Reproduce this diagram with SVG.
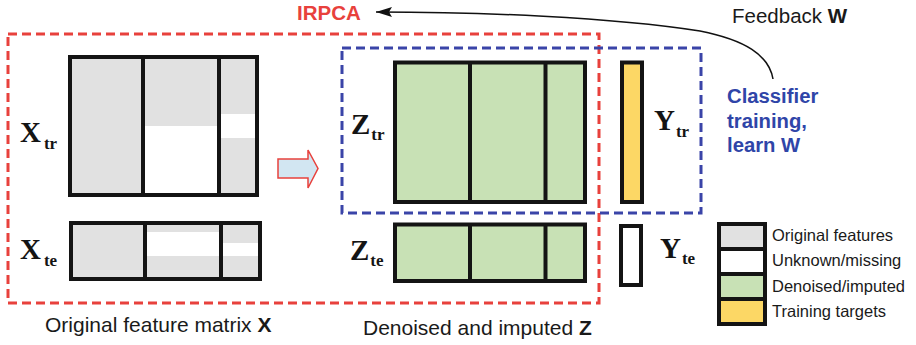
<svg xmlns="http://www.w3.org/2000/svg" width="916" height="345" viewBox="0 0 916 345">
  <defs>
    <marker id="head" markerWidth="16" markerHeight="10" refX="16" refY="5" orient="auto" markerUnits="userSpaceOnUse">
      <path d="M0,0 L16,5 L0,10 L3,5 Z" fill="#111"/>
    </marker>
    <style>
      .cell { stroke: none; }
      .gray { fill: #e1e1e1; }
      .white { fill: #ffffff; }
      .green { fill: #c8e1b5; }
      .yellow { fill: #fcd765; }
      .frame { fill: none; stroke: #141414; stroke-width: 4; }
      .sym { font-family: "Liberation Serif", "Times New Roman", serif; font-weight: bold; fill: #141414; }
      .big { font-size: 29px; }
      .sub { font-size: 17px; }
      .sans { font-family: "Liberation Sans", Arial, sans-serif; fill: #1a1a1a; }
      .cap { font-size: 21px; }
      .leg { font-size: 16.5px; }
      .redbox { fill: none; stroke: #e8413c; stroke-width: 3; stroke-dasharray: 9 5; }
      .bluebox { fill: none; stroke: #3a44a8; stroke-width: 3; stroke-dasharray: 9 5; }
    </style>
  </defs>

  <!-- region outlines -->
  <g id="irpca-region">
    <rect class="redbox" x="8" y="34" width="591" height="269"/>
    <text x="297" y="20" font-family="Liberation Sans, Arial, sans-serif" font-weight="bold" font-size="20.5" fill="#e8413c">IRPCA</text>
  </g>
  <g id="classifier-region">
    <rect class="bluebox" x="342" y="48" width="359" height="165"/>
    <text font-family="Liberation Sans, Arial, sans-serif" font-weight="bold" font-size="20.3" fill="#2f45a8">
      <tspan x="727" y="103">Classifier</tspan>
      <tspan x="727" y="128">training,</tspan>
      <tspan x="727" y="152">learn W</tspan>
    </text>
  </g>

  <!-- X train -->
  <g id="x-train">
    <rect class="cell gray" x="70" y="57" width="187" height="138"/>
    <rect class="cell white" x="143" y="126" width="76" height="69"/>
    <rect class="cell white" x="219" y="114" width="38" height="24"/>
    <rect class="frame" x="70" y="57" width="187" height="138"/>
    <line class="frame" x1="143" y1="57" x2="143" y2="195"/>
    <line class="frame" x1="219" y1="57" x2="219" y2="195"/>
    <text class="sym" x="20" y="142"><tspan class="big">X</tspan><tspan class="sub" dx="3" dy="7">tr</tspan></text>
  </g>

  <!-- X test -->
  <g id="x-test">
    <rect class="cell gray" x="71" y="223" width="189" height="56"/>
    <rect class="cell white" x="145" y="232" width="76" height="24"/>
    <rect class="cell white" x="221" y="243" width="39" height="13"/>
    <rect class="frame" x="71" y="223" width="189" height="56"/>
    <line class="frame" x1="145" y1="223" x2="145" y2="279"/>
    <line class="frame" x1="221" y1="223" x2="221" y2="279"/>
    <text class="sym" x="20" y="259"><tspan class="big">X</tspan><tspan class="sub" dx="3" dy="7">te</tspan></text>
  </g>

  <!-- Z train -->
  <g id="z-train">
    <rect class="cell green" x="395" y="62.5" width="190" height="139.5"/>
    <rect class="frame" x="395" y="62.5" width="190" height="139.5"/>
    <line class="frame" x1="470" y1="62.5" x2="470" y2="202"/>
    <line class="frame" x1="545.5" y1="62.5" x2="545.5" y2="202"/>
    <text class="sym" x="351" y="134"><tspan class="big">Z</tspan><tspan class="sub" dx="1" dy="6">tr</tspan></text>
  </g>

  <!-- Z test -->
  <g id="z-test">
    <rect class="cell green" x="395" y="224.5" width="190" height="56.5"/>
    <rect class="frame" x="395" y="224.5" width="190" height="56.5"/>
    <line class="frame" x1="470" y1="224.5" x2="470" y2="281"/>
    <line class="frame" x1="545.5" y1="224.5" x2="545.5" y2="281"/>
    <text class="sym" x="350" y="260"><tspan class="big">Z</tspan><tspan class="sub" dx="1" dy="6">te</tspan></text>
  </g>

  <!-- Y train -->
  <g id="y-train">
    <rect class="cell yellow" x="622" y="62.5" width="20" height="139.5"/>
    <rect class="frame" x="622" y="62.5" width="20" height="139.5"/>
    <text class="sym" x="654" y="130"><tspan class="big" font-size="28">Y</tspan><tspan class="sub" dx="1" dy="7">tr</tspan></text>
  </g>

  <!-- Y test -->
  <g id="y-test">
    <rect class="cell white" x="621" y="226" width="20" height="59"/>
    <rect class="frame" x="621" y="226" width="20" height="59"/>
    <text class="sym" x="660" y="258"><tspan class="big" font-size="28">Y</tspan><tspan class="sub" dx="1" dy="6">te</tspan></text>
  </g>

  <!-- legend -->
  <g id="legend">
    <rect class="cell gray" x="719" y="224" width="46" height="25"/>
    <rect class="cell white" x="719" y="249" width="46" height="25"/>
    <rect class="cell green" x="719" y="274" width="46" height="25"/>
    <rect class="cell yellow" x="719" y="299" width="46" height="25"/>
    <rect class="frame" x="719" y="224" width="46" height="100"/>
    <line class="frame" x1="719" y1="249" x2="765" y2="249"/>
    <line class="frame" x1="719" y1="274" x2="765" y2="274"/>
    <line class="frame" x1="719" y1="299" x2="765" y2="299"/>
    <text class="sans leg" x="772" y="241">Original features</text>
    <text class="sans leg" x="772" y="266">Unknown/missing</text>
    <text class="sans leg" x="772" y="292">Denoised/imputed</text>
    <text class="sans leg" x="772" y="317">Training targets</text>
  </g>

  <!-- captions -->
  <g id="captions">
    <text class="sans cap" x="45" y="332">Original feature matrix <tspan font-weight="bold">X</tspan></text>
    <text class="sans cap" x="363" y="335">Denoised and imputed <tspan font-weight="bold">Z</tspan></text>
    <text class="sans" font-size="20.5" x="732" y="23">Feedback <tspan font-weight="bold">W</tspan></text>
  </g>

  <!-- connectors -->
  <g id="connectors">
    <path d="M278,159 L308,159 L308,150 L318,168.5 L308,188 L308,178 L278,178 Z" fill="#d2e6f2" stroke="#e8413c" stroke-width="1.5" stroke-linejoin="miter"/>
    <path d="M773,79 C769,55 745,40 700,31 C610,17 480,12 376,12" fill="none" stroke="#111" stroke-width="1.5" marker-end="url(#head)"/>
  </g>
</svg>
